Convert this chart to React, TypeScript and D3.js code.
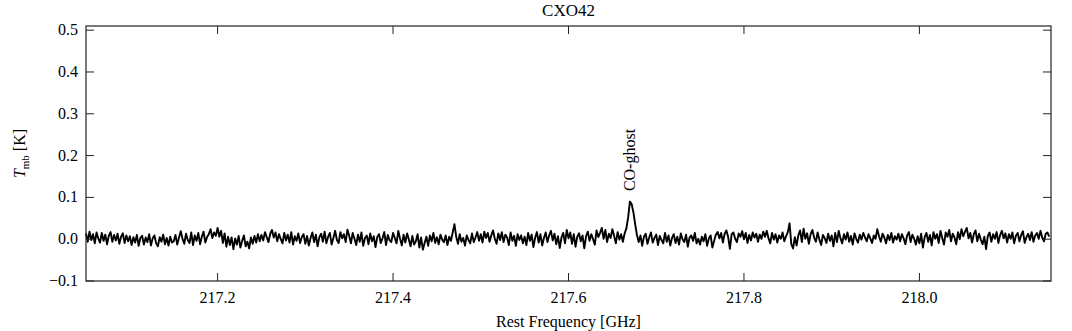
import React from 'react'
import * as d3 from 'd3'

// spectrum channels: first channel frequency and channel width in GHz
const channelStart = 217.05
const channelWidth = 0.002

// Tmb [K] per channel (22 rows of 25 channels = 0.05 GHz each)
const tmb = [
  0.014, -0.006, 0.018, -0.002, 0.012, -0.010, 0.016, 0.002, -0.008, 0.015, -0.004, 0.011, -0.012, 0.008, 0.017, -0.006, 0.010, -0.003, 0.013, -0.011, 0.006, 0.014, -0.009, 0.009, -0.005,
  0.007, -0.014, 0.005, -0.008, 0.010, -0.016, 0.003, 0.008, -0.013, 0.004, -0.007, 0.012, -0.015, 0.002, 0.009, -0.010, -0.017, 0.005, -0.006, 0.011, -0.012, 0.003, -0.015, 0.006, -0.008,
  -0.005, 0.010, -0.013, 0.004, 0.019, 0.001, -0.011, 0.013, -0.002, -0.009, 0.016, -0.014, 0.009, -0.004, 0.015, -0.012, 0.006, 0.018, -0.008, 0.005, 0.012, 0.024, 0.003, 0.016, 0.008,
  0.027, 0.006, 0.020, -0.009, 0.014, -0.018, 0.006, -0.014, 0.004, -0.024, 0.002, -0.013, 0.008, -0.020, -0.004, 0.009, -0.017, -0.006, -0.022, 0.004, -0.011, 0.008, -0.008, 0.012, -0.005,
  0.010, -0.003, 0.017, 0.005, -0.007, 0.013, 0.022, 0.004, 0.016, -0.005, 0.012, 0.000, -0.010, 0.015, -0.003, 0.011, -0.008, 0.017, -0.013, 0.007, -0.004, 0.014, -0.009, 0.005, 0.012,
  -0.011, 0.008, -0.015, 0.003, 0.016, -0.007, 0.011, -0.017, 0.005, 0.013, -0.006, 0.018, -0.010, 0.006, 0.015, -0.013, 0.003, 0.020, -0.002, -0.009, 0.017, 0.002, 0.012, -0.007, 0.023,
  0.008, -0.010, 0.015, 0.001, -0.014, 0.011, -0.006, 0.016, -0.016, 0.003, 0.009, -0.012, 0.014, -0.005, 0.007, -0.019, 0.005, 0.012, -0.009, 0.002, 0.017, -0.014, 0.010, -0.002, -0.007,
  0.015, 0.003, -0.010, 0.020, 0.001, -0.015, 0.011, -0.008, 0.014, -0.001, -0.017, 0.008, -0.013, -0.005, 0.012, -0.020, 0.004, -0.025, -0.009, 0.006, -0.016, 0.009, -0.005, 0.015, -0.009,
  0.005, -0.012, 0.011, -0.001, -0.007, 0.009, -0.014, 0.006, -0.004, 0.016, 0.036, 0.006, -0.011, 0.012, -0.006, 0.003, -0.015, 0.009, -0.002, -0.010, 0.014, -0.007, 0.004, 0.017, -0.004,
  0.012, -0.008, 0.018, 0.003, 0.015, -0.006, 0.009, 0.021, 0.001, -0.011, 0.014, -0.002, 0.017, -0.007, 0.011, 0.004, -0.014, 0.016, -0.004, 0.008, -0.016, 0.012, -0.002, 0.009, -0.010,
  0.006, -0.014, 0.015, -0.004, 0.011, -0.019, 0.004, 0.017, -0.008, 0.012, -0.015, 0.003, 0.016, -0.007, 0.009, 0.020, -0.003, 0.013, -0.012, 0.007, -0.021, 0.004, 0.015, -0.010, 0.022,
  0.002, 0.016, -0.011, 0.012, -0.018, 0.006, 0.014, -0.005, 0.009, -0.022, 0.007, 0.018, -0.004, 0.012, 0.000, -0.013, 0.021, 0.005, 0.015, 0.027, 0.001, 0.022, -0.007, 0.013, 0.003,
  0.024, 0.008, -0.010, 0.017, -0.001, 0.012, -0.006, 0.014, 0.026, 0.052, 0.090, 0.084, 0.064, 0.036, 0.010, -0.007, 0.009, -0.016, 0.006, 0.013, -0.011, 0.004, 0.016, -0.008, 0.003,
  0.011, -0.014, 0.008, -0.002, -0.010, 0.015, -0.006, 0.009, -0.015, 0.003, 0.012, -0.009, 0.006, -0.013, 0.014, 0.000, -0.007, 0.011, -0.018, 0.004, 0.009, -0.004, 0.015, -0.010, 0.001,
  -0.013, 0.006, -0.005, 0.012, -0.016, 0.002, 0.009, -0.020, -0.004, 0.011, 0.017, 0.002, 0.015, -0.008, 0.013, 0.021, 0.005, -0.023, 0.012, 0.016, 0.001, -0.007, 0.014, 0.006, 0.019,
  0.000, 0.015, -0.009, 0.010, -0.003, 0.016, 0.004, 0.013, -0.006, 0.011, 0.001, 0.018, 0.006, 0.020, 0.002, -0.010, 0.015, -0.001, 0.012, -0.008, 0.009, 0.001, 0.016, -0.005, 0.007,
  0.017, 0.038, -0.012, -0.022, 0.005, -0.015, 0.009, 0.021, -0.007, 0.025, 0.001, 0.014, -0.011, 0.012, 0.022, 0.004, -0.006, 0.016, -0.001, -0.014, 0.010, 0.003, -0.009, 0.013, -0.004,
  0.009, -0.017, 0.015, -0.007, 0.020, 0.002, -0.010, 0.012, -0.001, 0.016, -0.006, 0.008, -0.013, 0.014, 0.001, -0.008, 0.011, -0.001, 0.015, 0.004, -0.005, 0.012, 0.002, -0.009, 0.009,
  0.001, 0.024, 0.007, -0.006, 0.013, 0.004, -0.010, 0.010, -0.002, 0.015, -0.008, 0.007, -0.001, 0.013, -0.005, 0.012, 0.002, -0.012, 0.009, 0.017, -0.007, 0.011, 0.001, -0.013, 0.007,
  -0.010, 0.013, -0.020, 0.005, 0.015, -0.006, 0.010, -0.015, 0.017, 0.001, 0.012, -0.009, 0.020, 0.003, -0.013, 0.016, 0.006, 0.022, -0.005, 0.013, 0.004, -0.012, 0.017, 0.000, 0.024,
  0.007, 0.018, 0.027, 0.002, 0.015, -0.008, 0.012, 0.021, -0.005, 0.013, -0.001, -0.012, 0.006, -0.024, 0.008, 0.016, -0.006, 0.012, 0.001, 0.017, -0.009, 0.010, 0.020, 0.002, 0.014,
  -0.008, 0.012, 0.001, 0.016, -0.010, 0.008, 0.015, -0.005, 0.010, 0.019, -0.009, 0.005, 0.013, -0.002, 0.017, -0.006, 0.009, 0.015, 0.001, 0.020, 0.004, -0.005, 0.013, 0.016, 0.006,
]

const xTicks = [217.2, 217.4, 217.6, 217.8, 218.0]
const yTicks = [-0.1, 0.0, 0.1, 0.2, 0.3, 0.4, 0.5]

// line markers
const lineNames = ['CO-ghost']
const lineFreqs = [217.671]
const lineLabelY = [0.115]

const W = 1072
const H = 331
const margin = { left: 86, right: 21, top: 26, bottom: 50 }
const font = "'Liberation Serif', 'DejaVu Serif', serif"

export default function App () {
  const x = d3.scaleLinear().domain([217.05, 218.15]).range([margin.left, W - margin.right])
  const y = d3.scaleLinear().domain([-0.1, 0.51]).range([H - margin.bottom, margin.top])

  const pts: [number, number][] = tmb.map((v, i) => [channelStart + i * channelWidth, v])
  const line = d3.line<[number, number]>()
    .x(d => x(d[0]))
    .y(d => y(d[1]))

  const x0 = margin.left
  const x1 = W - margin.right
  const y0 = H - margin.bottom
  const y1 = margin.top
  const tl = 8
  const fmt = (v: number) => (v < 0 ? '\u2212' : '') + Math.abs(v).toFixed(1)

  return (
    <svg width={W} height={H} style={{ position: 'absolute', left: 0, top: 0, background: '#fff' }}>
      <path d={line(pts) || ''} fill='none' stroke='#000' strokeWidth={1.9} strokeLinejoin='round' />

      {xTicks.map(t => (
        <g key={'x' + t}>
          <line x1={x(t)} x2={x(t)} y1={y0} y2={y0 - tl} stroke='#222' />
          <line x1={x(t)} x2={x(t)} y1={y1} y2={y1 + tl} stroke='#222' />
          <text x={x(t)} y={y0 + 22} textAnchor='middle' fontFamily={font} fontSize={16}>{t.toFixed(1)}</text>
        </g>
      ))}
      {yTicks.map(t => (
        <g key={'y' + t}>
          <line x1={x0} x2={x0 + tl} y1={y(t)} y2={y(t)} stroke='#222' />
          <line x1={x1} x2={x1 - tl} y1={y(t)} y2={y(t)} stroke='#222' />
          <text x={x0 - 8} y={y(t) + 5} textAnchor='end' fontFamily={font} fontSize={16}>{fmt(t)}</text>
        </g>
      ))}

      <rect x={x0} y={y1} width={x1 - x0} height={y0 - y1} fill='none' stroke='#222' strokeWidth={1.2} />

      {lineNames.map((n, i) => (
        <text key={n} transform={`translate(${x(lineFreqs[i]) + 4},${y(lineLabelY[i])}) rotate(-90)`}
          fontFamily={font} fontSize={16}>{n}</text>
      ))}

      <text x={(x0 + x1) / 2} y={16} textAnchor='middle' fontFamily={font} fontSize={17}>CXO42</text>
      <text x={(x0 + x1) / 2} y={H - 4} textAnchor='middle' fontFamily={font} fontSize={16}>Rest Frequency [GHz]</text>
      <text transform={`translate(25,${(y0 + y1) / 2}) rotate(-90)`} textAnchor='middle' fontFamily={font} fontSize={16}>
        <tspan fontStyle='italic'>T</tspan>
        <tspan fontSize={11} dy={4}>mb</tspan>
        <tspan dy={-4}> [K]</tspan>
      </text>
    </svg>
  )
}
